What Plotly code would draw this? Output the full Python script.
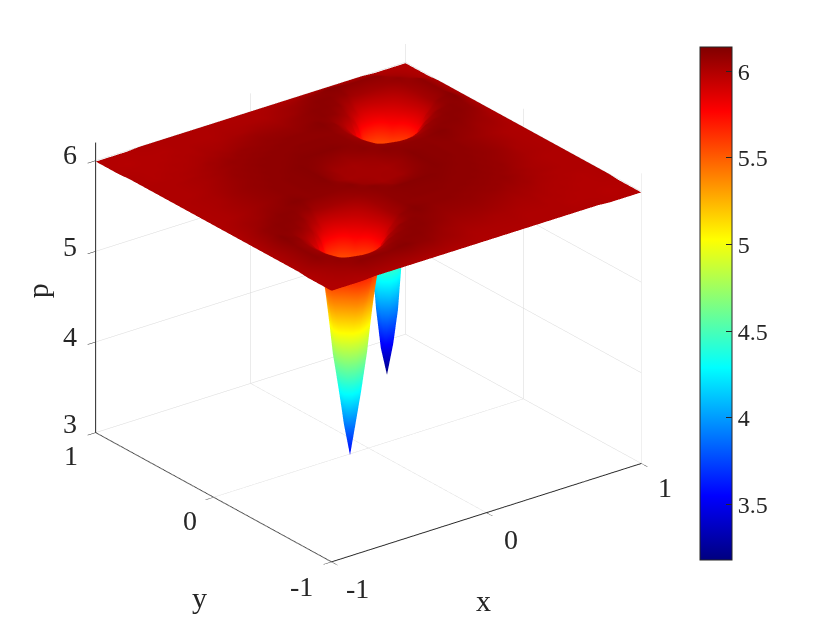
import numpy as np
import plotly.graph_objects as go

x_neg = [-1.0, -0.88, -0.80, -0.72, -0.64, -0.58, -0.54, -0.50, -0.46, -0.42, -0.36, -0.28, -0.20, -0.12]
x_pos = [0.0, 0.12, 0.20, 0.28, 0.36, 0.42, 0.46, 0.50, 0.54, 0.58, 0.64, 0.72, 0.80, 0.88, 1.0]

well_front = [
 [6.02,6.04,6.09,6.09,6.09,6.09,6.10,6.11,6.11,6.09,6.08,6.05,6.04],
 [6.04,6.08,6.07,6.05,6.05,6.05,6.06,6.08,6.09,6.10,6.10,6.08,6.05],
 [6.09,6.07,6.00,5.97,5.95,5.96,5.97,6.00,6.05,6.08,6.10,6.10,6.08],
 [6.09,6.05,5.97,5.72,5.14,5.09,5.30,5.62,5.86,6.00,6.08,6.10,6.09],
 [6.09,6.05,5.95,5.14,4.52,4.34,4.42,4.68,5.16,5.86,6.00,6.08,6.11],
 [6.09,6.05,5.95,5.09,4.34,3.97,3.92,4.25,4.68,5.62,5.96,6.08,6.11],
 [6.10,6.06,5.95,5.30,4.42,3.92,3.55,3.92,4.42,5.30,5.85,6.04,6.10],
 [6.11,6.08,5.97,5.62,4.68,4.25,3.92,3.97,4.34,5.09,5.80,6.03,6.09],
 [6.11,6.08,6.00,5.86,5.16,4.68,4.42,4.34,4.52,5.14,5.80,6.03,6.09],
 [6.09,6.10,6.08,6.00,5.86,5.62,5.30,5.09,5.14,5.72,5.88,6.03,6.09],
 [6.08,6.10,6.10,6.08,6.00,5.96,5.85,5.80,5.80,5.88,5.95,6.05,6.09],
 [6.05,6.08,6.10,6.10,6.08,6.08,6.04,6.03,6.03,6.03,6.05,6.08,6.10],
 [6.04,6.05,6.08,6.09,6.11,6.11,6.10,6.09,6.09,6.09,6.09,6.10,6.06],
]
well_back = [
 [6.06,6.10,6.09,6.09,6.09,6.09,6.10,6.11,6.11,6.09,6.08,6.05,6.04],
 [6.10,6.08,6.07,6.05,6.05,6.05,6.06,6.08,6.09,6.10,6.10,6.08,6.05],
 [6.09,6.07,6.00,5.97,5.95,5.96,5.97,6.00,6.05,6.08,6.10,6.10,6.08],
 [6.09,6.05,5.97,5.72,5.23,5.20,5.33,5.62,5.86,6.00,6.08,6.10,6.09],
 [6.09,6.05,5.95,5.23,4.45,4.10,4.25,4.75,5.25,5.86,6.00,6.08,6.11],
 [6.09,6.05,5.95,5.20,4.10,3.55,3.50,3.90,4.75,5.62,5.96,6.08,6.11],
 [6.10,6.06,5.95,5.33,4.25,3.50,3.18,3.50,4.25,5.33,5.85,6.04,6.10],
 [6.11,6.08,5.97,5.62,4.75,3.90,3.50,3.55,4.10,5.20,5.80,6.03,6.09],
 [6.11,6.08,6.00,5.86,5.25,4.75,4.25,4.10,4.45,5.23,5.80,6.03,6.09],
 [6.09,6.10,6.08,6.00,5.86,5.62,5.33,5.20,5.23,5.72,5.88,6.03,6.09],
 [6.08,6.10,6.10,6.08,6.00,5.96,5.85,5.80,5.80,5.88,5.95,6.05,6.09],
 [6.05,6.08,6.10,6.10,6.08,6.08,6.04,6.03,6.03,6.03,6.05,6.08,6.04],
 [6.04,6.05,6.08,6.09,6.11,6.11,6.10,6.09,6.09,6.09,6.09,6.04,6.02],
]
plate_off = [
 [6.04,6.08,6.11,6.10,6.10,6.09,6.09,6.09,6.08,6.07,6.05,6.03,6.01],
 [6.08,6.10,6.11,6.10,6.09,6.09,6.09,6.08,6.08,6.07,6.05,6.02,6.01],
 [6.11,6.11,6.10,6.09,6.09,6.09,6.08,6.08,6.07,6.06,6.04,6.02,6.01],
 [6.10,6.10,6.09,6.09,6.09,6.08,6.08,6.07,6.07,6.05,6.03,6.01,6.00],
 [6.10,6.09,6.09,6.09,6.08,6.08,6.07,6.07,6.06,6.04,6.02,6.01,6.00],
 [6.09,6.09,6.09,6.08,6.08,6.07,6.07,6.06,6.05,6.04,6.02,6.01,6.00],
 [6.09,6.09,6.08,6.08,6.07,6.07,6.07,6.06,6.05,6.03,6.02,6.01,6.00],
 [6.09,6.08,6.08,6.07,6.07,6.06,6.06,6.05,6.04,6.03,6.01,6.00,6.00],
 [6.08,6.08,6.07,6.07,6.06,6.05,6.05,6.04,6.04,6.02,6.01,6.00,6.00],
 [6.07,6.07,6.06,6.05,6.04,6.04,6.03,6.03,6.02,6.01,6.00,6.00,5.99],
 [6.05,6.05,6.04,6.03,6.02,6.02,6.02,6.01,6.01,6.00,6.00,5.99,5.99],
 [6.03,6.02,6.02,6.01,6.01,6.01,6.01,6.00,6.00,6.00,5.99,5.99,5.99],
 [6.01,6.01,6.01,6.00,6.00,6.00,6.00,6.00,6.00,5.99,5.99,5.99,5.98],
]
mid_inner_out = [6.03,6.06,6.11,6.10,6.10,6.09,6.09,6.09,6.08,6.07,6.05,6.03,6.01]
rim_inner_out = [6.00,6.00,6.00,6.00,6.00,6.00,6.00,6.00,6.00,6.00,6.00,5.99,5.99]
p_centre = [6.03]
p_mid_edge = [6.00]
p_corner = [5.99]

ticks_xy = [-1, 0, 1]
ticktext_xy = ["-1", "0", "1"]
ticks_z = [3, 4, 5, 6]
ticks_cb = [3.5, 4, 4.5, 5, 5.5, 6]

jet = [[0, "#000080"], [0.125, "#0000ff"], [0.375, "#00ffff"],
       [0.625, "#ffff00"], [0.875, "#ff0000"], [1, "#800000"]]

x = np.array(x_neg + x_pos)
y = x.copy()
off = np.array(plate_off)
mid = np.array(mid_inner_out)
rim = np.array(rim_inner_out)
Q_ff = np.array(well_front)
Q_bb = np.array(well_back)
Q_br = off[::-1]
Q_tl = off[:, ::-1]


def hrow(first, a, c, b, last):
    return np.concatenate([first, a, c, b, last])


rows = [hrow(p_corner, rim[::-1], p_mid_edge, rim, p_corner)]
for j in range(13):
    rows.append(hrow([rim[12 - j]], Q_ff[j], [mid[12 - j]], Q_br[j], [rim[12 - j]]))
rows.append(hrow(p_mid_edge, mid[::-1], p_centre, mid, p_mid_edge))
for j in range(13):
    rows.append(hrow([rim[j]], Q_tl[j], [mid[j]], Q_bb[j], [rim[j]]))
rows.append(hrow(p_corner, rim[::-1], p_mid_edge, rim, p_corner))
z = np.array(rows)

FONT = "Liberation Serif"
INK = "#262626"
common = dict(showbackground=False, showgrid=True, gridcolor="#d8d8d8", gridwidth=1,
              zeroline=False, showline=True, linecolor="#262626", linewidth=2,
              showspikes=False, ticks="outside", ticklen=10, tickwidth=1, tickcolor="#262626",
              showticklabels=False, title=dict(text=""))


def label(px, py, pz, text, dx, dy, size=28, angle=0):
    return dict(x=px, y=py, z=pz, text=text, showarrow=False, xshift=dx, yshift=-dy,
                textangle=angle, font=dict(family=FONT, size=size, color=INK))


notes = []
for v, dy in zip(ticks_z, [-9, -5, -5, -6]):
    notes.append(label(-1, 1, v, str(v), -26, dy))
for v, t, off_d in zip(ticks_xy, ticktext_xy, [(-30, 25), (-24, 23), (-25, 23)]):
    notes.append(label(-1, v, 3, t, off_d[0], off_d[1]))
for v, t, off_d in zip(ticks_xy, ticktext_xy, [(26, 27), (25, 27), (24, 24)]):
    notes.append(label(v, -1, 3, t, off_d[0], off_d[1]))
notes.append(label(0, -1, 3, "x", -3, 88, size=30))
notes.append(label(-1, 0, 3, "y", -14, 100, size=30))
notes.append(label(-1, 1, 4.5, "p", -58, -6, size=30, angle=-90))

fig = go.Figure(go.Surface(
    x=x, y=y, z=z, colorscale=jet, cmin=3.18, cmax=6.14,
    lighting=dict(ambient=1, diffuse=0, specular=0, roughness=1, fresnel=0),
    hoverinfo="skip",
    colorbar=dict(thicknessmode="pixels", thickness=32, lenmode="pixels", len=513,
                  x=692 / 840, xanchor="left", y=334.5 / 630, yanchor="middle",
                  xpad=0, ypad=0, outlinecolor="#262626", outlinewidth=1,
                  tickmode="array", tickvals=ticks_cb, ticktext=[str(v) if v % 1 else str(int(v)) for v in ticks_cb],
                  ticks="inside", ticklen=6, tickcolor="#262626",
                  tickfont=dict(family=FONT, size=24, color=INK)),
))
fig.update_layout(
    width=840, height=630, paper_bgcolor="white",
    margin=dict(l=0, r=0, t=0, b=0),
    font=dict(family=FONT, color=INK),
    scene=dict(
        domain=dict(x=[0, 0.8583], y=[0.0636, 1]),
        aspectmode="manual", aspectratio=dict(x=1.32, y=1.32, z=1.082),
        camera=dict(projection=dict(type="orthographic"),
                    eye=dict(x=-0.772, y=-1.014, z=0.585), up=dict(x=0, y=0, z=1),
                    center=dict(x=0, y=0, z=0)),
        xaxis=dict(range=[-1, 1], tickvals=ticks_xy, **common),
        yaxis=dict(range=[-1, 1], tickvals=ticks_xy, **common),
        zaxis=dict(range=[3, 6.2], tickvals=ticks_z, **common),
        annotations=notes,
    ),
)
fig.write_html("out.html")
